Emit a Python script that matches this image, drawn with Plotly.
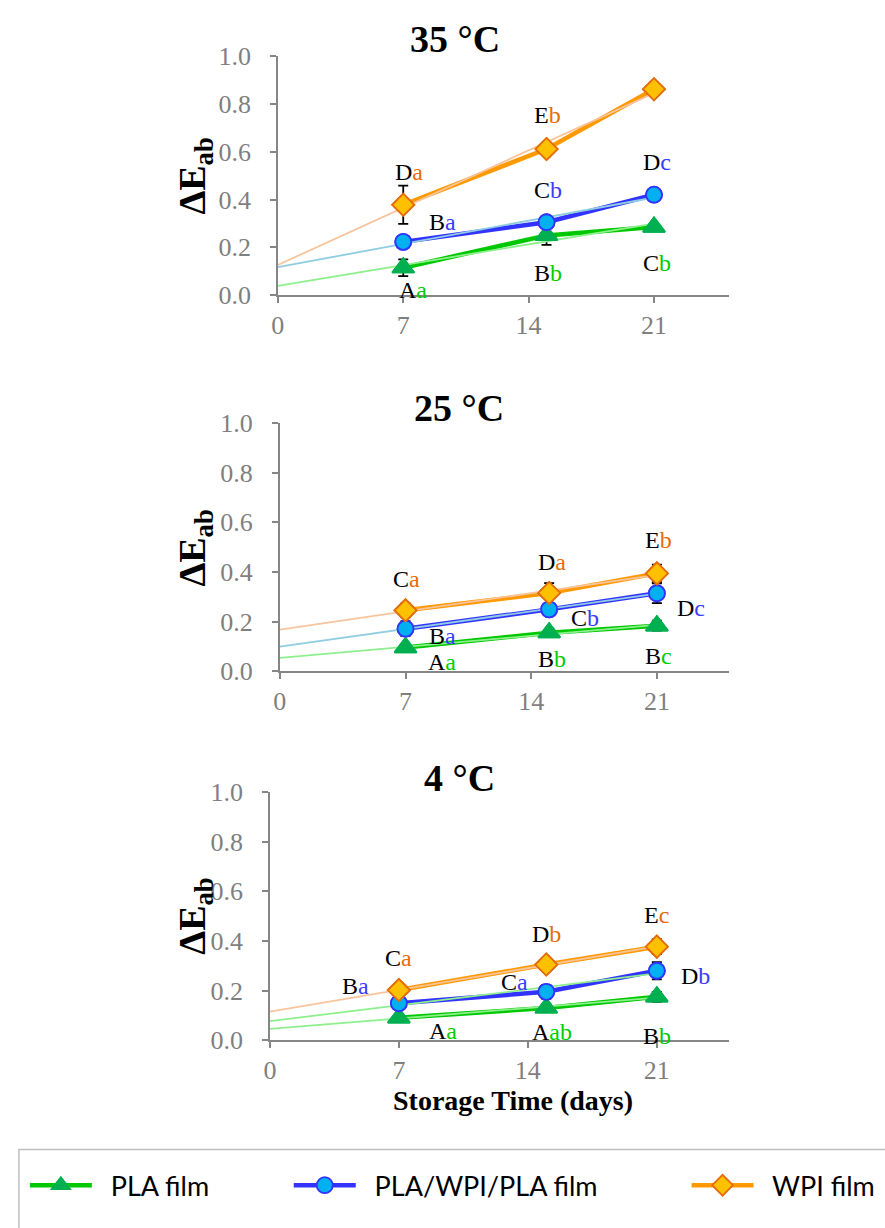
import numpy as np
import plotly.graph_objects as go

W, H = 885, 1228

# ---- data -------------------------------------------------------------
days = [7, 15, 21]
x_ticks = [0, 7, 14, 21]
y_ticks = [0.0, 0.2, 0.4, 0.6, 0.8, 1.0]
series_names = ["PLA film", "PLA/WPI/PLA film", "WPI film"]
panel_titles = ["35 °C", "25 °C", "4 °C"]

# 35 °C
pla_35 = [0.115, 0.250, 0.285]
lam_35 = [0.223, 0.305, 0.420]
wpi_35 = [0.378, 0.611, 0.861]
pla_35_sd = [0.035, 0.040, 0.015]
lam_35_sd = [0.010, 0.010, 0.010]
wpi_35_sd = [0.080, 0.010, 0.027]
pla_35_grp = ["Aa", "Bb", "Cb"]
lam_35_grp = ["Ba", "Cb", "Dc"]
wpi_35_grp = ["Da", "Eb", "Fc"]

# 25 °C
pla_25 = [0.095, 0.155, 0.183]
lam_25 = [0.171, 0.249, 0.314]
wpi_25 = [0.245, 0.315, 0.394]
pla_25_sd = [0.015, 0.015, 0.020]
lam_25_sd = [0.030, 0.020, 0.040]
wpi_25_sd = [0.028, 0.040, 0.035]
pla_25_grp = ["Aa", "Bb", "Bc"]
lam_25_grp = ["Ba", "Cb", "Dc"]
wpi_25_grp = ["Ca", "Da", "Eb"]

# 4 °C
pla_4 = [0.090, 0.130, 0.175]
lam_4 = [0.149, 0.195, 0.280]
wpi_4 = [0.202, 0.305, 0.377]
pla_4_sd = [0.015, 0.015, 0.020]
lam_4_sd = [0.020, 0.028, 0.035]
wpi_4_sd = [0.015, 0.015, 0.030]
pla_4_grp = ["Aa", "Aab", "Bb"]
lam_4_grp = ["Ba", "Ca", "Db"]
wpi_4_grp = ["Ca", "Db", "Ec"]

# ---- styling / placement ---------------------------------------------
SERIF = "Liberation Serif, Times New Roman, serif"
SANS = "Lato, Carlito, Calibri, sans-serif"
AXIS_GREY = "#868686"
TICK_GREY = "#7f7f7f"

styles = [
    dict(line="#00C800", fill="#00B050", edge="#00B050", symbol="triangle-up",
         size=19, letter="#00CC00"),
    dict(line="#3333FF", fill="#00B0F0", edge="#3333FF", symbol="circle",
         size=16, letter="#3A3AFF"),
    dict(line="#FF9900", fill="#FFC000", edge="#E46C0A", symbol="diamond",
         size=17, letter="#E46C0A"),
]
trend_colors = [
    ["#8DF08D", "#8FCDE0", "#F8C49C"],
    ["#8DF08D", "#8FCDE0", "#F8C49C"],
    ["#8DF08D", "#8DF08D", "#F8C49C"],
]

# pixel frame of each plot area: (left, right, top, bottom) and x-range max
frames = [
    dict(l=273, r=728, t=43, b=288, xmax=25.2, title_xy=(452, 26), ylab_y=166),
    dict(l=275, r=728, t=419, b=673, xmax=25.03, title_xy=(456, 404), ylab_y=547),
    dict(l=265, r=728, t=797, b=1051, xmax=24.93, title_xy=(456, 782), ylab_y=924),
]

# where the significance letters sit (day, value) for each series
letter_pos = [
    [[(7.53, 0.020), (15.07, 0.094), (21.16, 0.135)],
     [(9.20, 0.306), (15.07, 0.441), (21.16, 0.555)],
     [(7.31, 0.514), (15.07, 0.755), (21.16, 1.010)]],
    [[(9.06, 0.035), (15.14, 0.047), (21.10, 0.059)],
     [(9.06, 0.142), (17.00, 0.213), (22.90, 0.256)],
     [(7.07, 0.370), (15.14, 0.440), (21.10, 0.528)]],
    [[(9.42, 0.039), (15.30, 0.031), (21.00, 0.016)],
     [(4.63, 0.217), (13.25, 0.236), (23.10, 0.260)],
     [(7.00, 0.331), (15.02, 0.429), (21.00, 0.504)]],
]

panels = [
    ([pla_35, lam_35, wpi_35], [pla_35_sd, lam_35_sd, wpi_35_sd],
     [pla_35_grp, lam_35_grp, wpi_35_grp]),
    ([pla_25, lam_25, wpi_25], [pla_25_sd, lam_25_sd, wpi_25_sd],
     [pla_25_grp, lam_25_grp, wpi_25_grp]),
    ([pla_4, lam_4, wpi_4], [pla_4_sd, lam_4_sd, wpi_4_sd],
     [pla_4_grp, lam_4_grp, wpi_4_grp]),
]

legend_ids = ["legend", "legend2", "legend3"]
legend_x = [18, 284, 685]
NBSP = "\u00a0"


def px(x):
    return x / W


def py(y):
    return 1 - y / H


fig = go.Figure()
annotations = []

for i, (vals, sds, grps) in enumerate(panels):
    xa = "x" if i == 0 else f"x{i + 1}"
    ya = "y" if i == 0 else f"y{i + 1}"
    fr = frames[i]

    # connecting lines + markers + error bars
    for k in range(3):
        st = styles[k]
        fig.add_trace(go.Scatter(
            x=days, y=vals[k], xaxis=xa, yaxis=ya, mode="lines+markers",
            name=NBSP * 2 + series_names[k], legend=legend_ids[k],
            showlegend=(i == 0),
            line=dict(color=st["line"], width=4.5),
            marker=dict(symbol=st["symbol"], size=st["size"], color=st["fill"],
                        line=dict(color=st["edge"], width=1.8)),
            error_y=dict(type="data", array=sds[k], color="black",
                         thickness=1.8, width=5),
            cliponaxis=False,
        ))

    # linear trend lines from day 0 to day 21
    for k in range(3):
        slope, icpt = np.polyfit(days, vals[k], 1)
        tx = np.array([0, days[-1]])
        fig.add_trace(go.Scatter(
            x=tx, y=slope * tx + icpt, xaxis=xa, yaxis=ya, mode="lines",
            line=dict(color=trend_colors[i][k], width=1.8),
            showlegend=False, hoverinfo="skip",
        ))

    # markers redrawn on top of the trend lines
    for k in range(3):
        st = styles[k]
        fig.add_trace(go.Scatter(
            x=days, y=vals[k], xaxis=xa, yaxis=ya, mode="markers",
            marker=dict(symbol=st["symbol"], size=st["size"], color=st["fill"],
                        line=dict(color=st["edge"], width=1.8)),
            showlegend=False, hoverinfo="skip", cliponaxis=False,
        ))

    axis_common = dict(
        showline=True, linecolor=AXIS_GREY, linewidth=1.5,
        ticks="outside", ticklen=6, tickwidth=1.5, tickcolor=AXIS_GREY,
        showgrid=False, zeroline=False,
        tickfont=dict(family=SERIF, size=26, color=TICK_GREY),
    )
    fig.update_layout({
        ("xaxis" if i == 0 else f"xaxis{i + 1}"): dict(
            domain=[px(fr["l"]), px(fr["r"])], range=[0, fr["xmax"]],
            tickvals=x_ticks, anchor=ya, **axis_common),
        ("yaxis" if i == 0 else f"yaxis{i + 1}"): dict(
            domain=[py(fr["b"]), py(fr["t"])], range=[0, 1.0],
            tickvals=y_ticks, tickformat=".1f", anchor=xa,
            ticklabelstandoff=14, **axis_common),
    })

    # panel title
    tx_, ty_ = fr["title_xy"]
    annotations.append(dict(
        x=px(tx_), y=py(ty_), xref="paper", yref="paper", showarrow=False,
        text=f"<b>{panel_titles[i]}</b>", xanchor="center", yanchor="middle",
        font=dict(family=SERIF, size=38, color="black")))

    # y-axis title
    annotations.append(dict(
        x=px(190), y=py(fr["ylab_y"]), xref="paper", yref="paper",
        showarrow=False, textangle=-90, xanchor="center", yanchor="middle",
        text="<b>ΔE<sub>ab</sub></b>",
        font=dict(family=SERIF, size=38, color="black")))

    # significance letters
    for k in range(3):
        for j, g in enumerate(grps[k]):
            lx, ly = letter_pos[i][k][j]
            annotations.append(dict(
                x=lx, y=ly, xref=xa, yref=ya, showarrow=False,
                xanchor="center", yanchor="middle",
                text=f"{g[0]}<span style='color:{styles[k]['letter']}'>{g[1:]}</span>",
                font=dict(family=SERIF, size=24, color="black")))

# x-axis title under the last panel
annotations.append(dict(
    x=px(510), y=py(1113), xref="paper", yref="paper", showarrow=False,
    xanchor="center", yanchor="middle", text="<b>Storage Time (days)</b>",
    font=dict(family=SERIF, size=28, color="black")))

legends = {}
for k, lid in enumerate(legend_ids):
    legends[lid] = dict(
        x=px(legend_x[k]), y=py(1200), xanchor="left", yanchor="middle",
        orientation="h", itemwidth=62, bgcolor="rgba(0,0,0,0)",
        font=dict(family=SANS, size=27, color="black"),
        itemclick=False, itemdoubleclick=False,
    )

fig.update_layout(
    width=W, height=H, margin=dict(l=0, r=0, t=0, b=0),
    paper_bgcolor="white", plot_bgcolor="white",
    annotations=annotations,
    shapes=[dict(type="rect", xref="paper", yref="paper",
                 x0=px(12), x1=px(W + 20), y0=py(H + 20), y1=py(1163),
                 line=dict(color="#BFBFBF", width=1.5))],
    **legends,
)

fig.write_html("out.html")
